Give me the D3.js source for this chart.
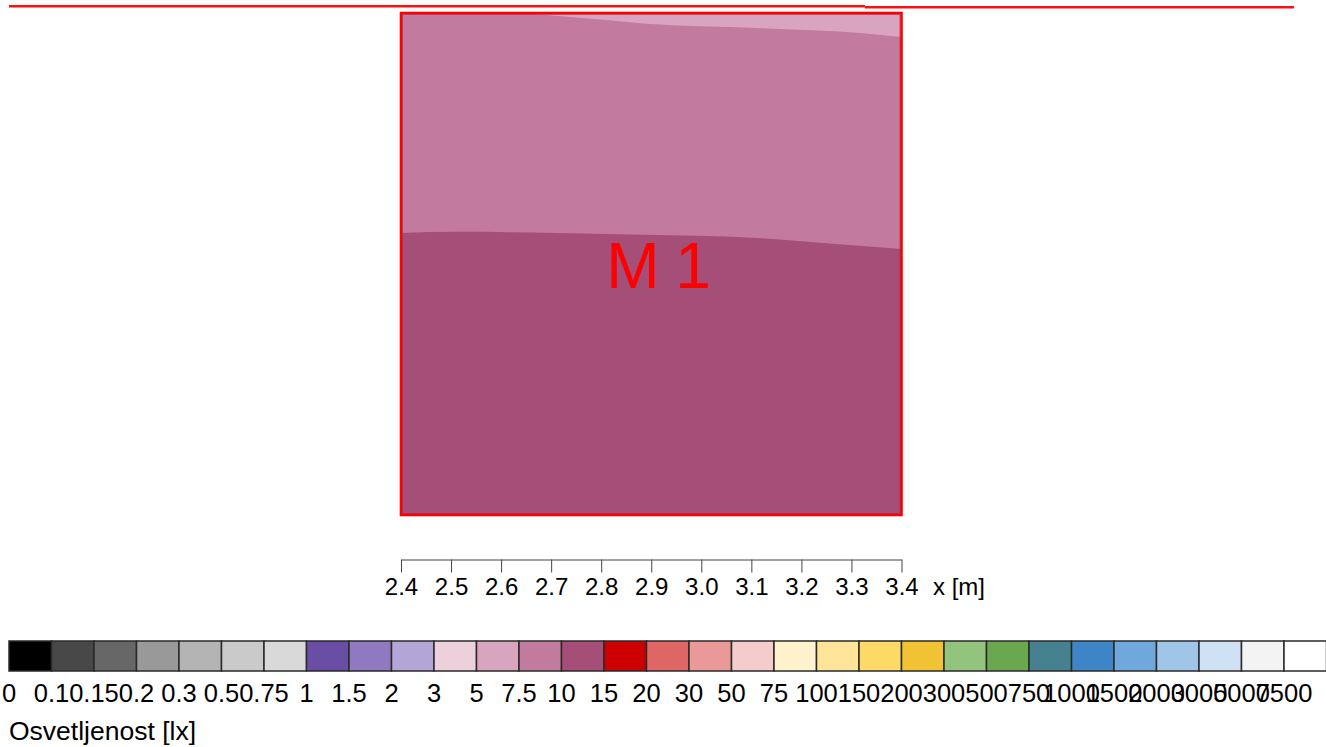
<!DOCTYPE html>
<html>
<head>
<meta charset="utf-8">
<script src="https://cdn.jsdelivr.net/npm/d3@7"></script>
<style>
  html, body { margin: 0; padding: 0; background: #fff; }
  svg { display: block; font-family: "Liberation Sans", Arial, sans-serif; }
</style>
</head>
<body>
<svg id="chart" width="1326" height="747"></svg>
<script>
// Illuminance class boundaries [lx] and their legend colours
const legendLevels = [0, 0.1, 0.15, 0.2, 0.3, 0.5, 0.75, 1, 1.5, 2, 3, 5, 7.5, 10, 15,
  20, 30, 50, 75, 100, 150, 200, 300, 500, 750, 1000, 1500, 2000, 3000, 5000, 7500];
const legendColors = ["#000000", "#484848", "#676767", "#999999", "#b4b4b4", "#cacaca", "#d9d9d9",
  "#6a4ea6", "#9079c1", "#b3a5d5", "#ecd0dc", "#d8a4c0", "#c27a9f", "#a54e78",
  "#cc0000", "#e06666", "#ea9999", "#f4cccc", "#fff2cc", "#ffe599", "#ffd966", "#f1c232",
  "#93c47d", "#6aa84f", "#45818e", "#3d85c6", "#6fa8dc", "#9fc5e8", "#cfe2f3", "#f3f3f3", "#ffffff"];

// Calculation surface extent [m]
const surfaceX = [2.4, 3.4];
const surfaceY = [0.0, 1.0];
const axisTicks = [2.4, 2.5, 2.6, 2.7, 2.8, 2.9, 3.0, 3.1, 3.2, 3.3, 3.4];

// Isolines [m]
const iso10X = [2.400, 2.512, 2.712, 2.911, 3.111, 3.243, 3.400];
const iso10Y = [0.562, 0.564, 0.562, 0.558, 0.552, 0.542, 0.530];
const iso75X = [2.640, 2.798, 2.884, 3.111, 3.317, 3.400];
const iso75Y = [1.000, 0.987, 0.979, 0.970, 0.960, 0.952];

// Representative illuminance of each zone [lx]
const zoneLow = 12;   // below the 10 lx isoline
const zoneMid = 8.5;  // between 7.5 and 10 lx
const zoneHigh = 6;   // beyond the 7.5 lx isoline

const svg = d3.select("#chart");

const x = d3.scaleLinear().domain(surfaceX).range([401, 901.5]);
const y = d3.scaleLinear().domain(surfaceY).range([515, 13]);
const color = d3.scaleThreshold().domain(legendLevels.slice(1)).range(legendColors);

// header rule
svg.append("line").attr("x1", 9).attr("x2", 865).attr("y1", 6.3).attr("y2", 6.3)
  .attr("stroke", "#ff1010").attr("stroke-width", 2.4);
svg.append("line").attr("x1", 865).attr("x2", 1294).attr("y1", 7.3).attr("y2", 7.3)
  .attr("stroke", "#ff1010").attr("stroke-width", 2.4);

// surface
const plot = svg.append("g");
const curve = d3.line().x(d => x(d[0])).y(d => y(d[1])).curve(d3.curveMonotoneX);

plot.append("rect")
  .attr("x", x(surfaceX[0])).attr("y", y(surfaceY[1]))
  .attr("width", x(surfaceX[1]) - x(surfaceX[0]))
  .attr("height", y(surfaceY[0]) - y(surfaceY[1]))
  .attr("fill", color(zoneMid));

const iso10 = iso10X.map((v, i) => [v, iso10Y[i]]);
const iso75 = iso75X.map((v, i) => [v, iso75Y[i]]);

plot.append("path")
  .attr("d", curve(iso10) + `L${x(surfaceX[1])},${y(surfaceY[0])}L${x(surfaceX[0])},${y(surfaceY[0])}Z`)
  .attr("fill", color(zoneLow));

plot.append("path")
  .attr("d", curve(iso75) + `L${x(surfaceX[1])},${y(surfaceY[1])}Z`)
  .attr("fill", color(zoneHigh));

// surface border
plot.append("rect")
  .attr("x", x(surfaceX[0])).attr("y", y(surfaceY[1]))
  .attr("width", x(surfaceX[1]) - x(surfaceX[0]))
  .attr("height", y(surfaceY[0]) - y(surfaceY[1]))
  .attr("fill", "none").attr("stroke", "#ff0000").attr("stroke-width", 2.6);
plot.append("rect")
  .attr("x", x(surfaceX[0]) + 1.6).attr("y", y(surfaceY[1]) + 1.6)
  .attr("width", x(surfaceX[1]) - x(surfaceX[0]) - 3.2)
  .attr("height", y(surfaceY[0]) - y(surfaceY[1]) - 3.2)
  .attr("fill", "none").attr("stroke", "#b0253f").attr("stroke-width", 0.8).attr("opacity", 0.7);

plot.append("text")
  .attr("x", 658).attr("y", 288)
  .attr("text-anchor", "middle")
  .attr("font-size", 64).attr("fill", "#ff0000")
  .attr("letter-spacing", -1)
  .text("M 1");

// x axis
const axis = svg.append("g")
  .attr("transform", "translate(0,559.5)")
  .call(d3.axisBottom(x).tickValues(axisTicks).tickFormat(d3.format(".1f"))
    .tickSize(13).tickSizeOuter(0));
axis.select(".domain").attr("stroke", "#444").attr("stroke-width", 1);
axis.selectAll(".tick line").attr("stroke", "#444").attr("stroke-width", 1);
axis.selectAll(".tick text")
  .attr("y", 35).attr("dy", null)
  .attr("font-size", 24).attr("font-family", null).attr("fill", "#000");
svg.append("text").attr("x", 933).attr("y", 594.5)
  .attr("font-size", 24).text("x [m]");

// colour legend
const lx = d3.scaleBand().domain(legendLevels).range([9, 9 + 42.5 * legendLevels.length]).padding(0);
const legend = svg.append("g");
legend.selectAll("rect").data(legendLevels).join("rect")
  .attr("x", d => lx(d)).attr("y", 641)
  .attr("width", lx.bandwidth()).attr("height", 30)
  .attr("fill", d => color(d))
  .attr("stroke", "#2a2a2a").attr("stroke-width", 1.5);
legend.selectAll("text").data(legendLevels).join("text")
  .attr("x", d => lx(d)).attr("y", 702)
  .attr("text-anchor", "middle")
  .attr("font-size", 25.5)
  .text(d => String(d));
svg.append("text").attr("x", 9).attr("y", 740)
  .attr("font-size", 26.5).text("Osvetljenost [lx]");
</script>
</body>
</html>
